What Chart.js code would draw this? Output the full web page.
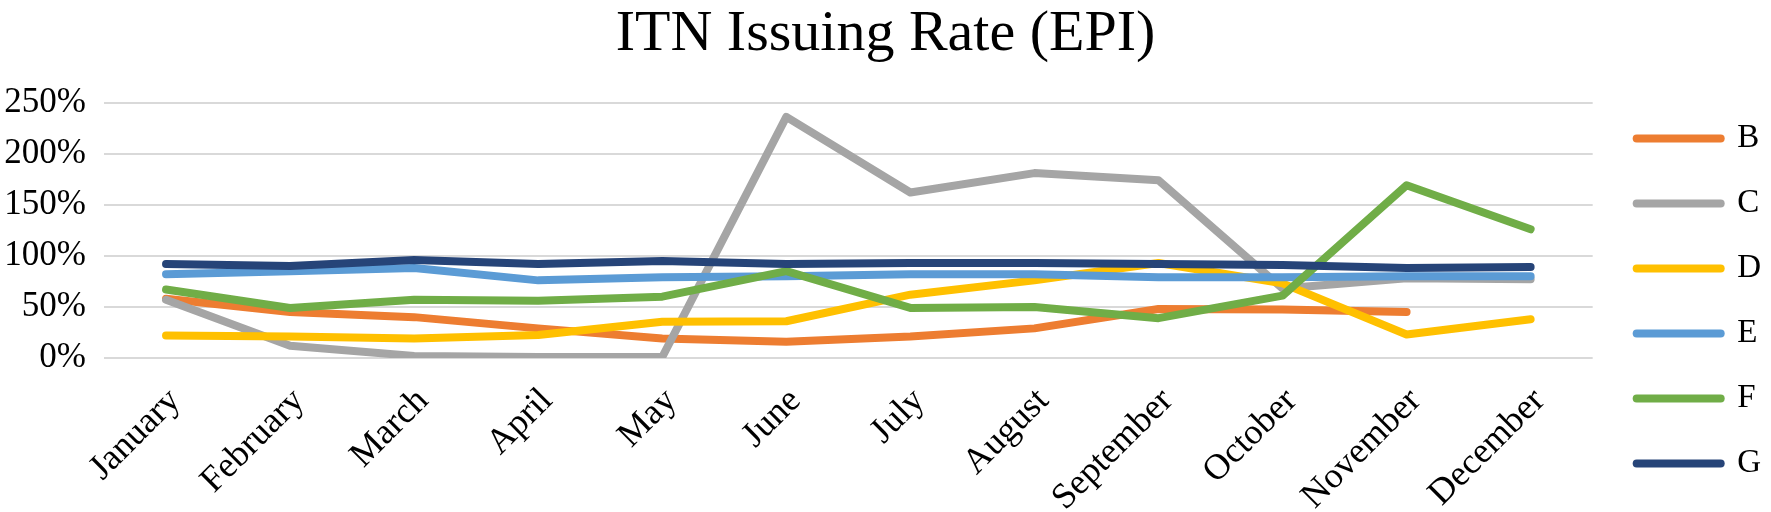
<!DOCTYPE html>
<html>
<head>
<meta charset="utf-8">
<script src="https://cdn.jsdelivr.net/npm/chart.js@4.4.1/dist/chart.umd.min.js"></script>
<style>
html,body{margin:0;padding:0;background:#fff;}
#wrap{width:1771px;height:512px;position:relative;}
</style>
</head>
<body>
<div id="wrap"><canvas id="c"></canvas></div>
<script>
const months = ["January","February","March","April","May","June","July","August","September","October","November","December"];
const seriesB = [58, 45, 40, 29, 19, 16, 21, 29, 48, 47.5, 45, null];
const seriesC = [57, 12, 2, 1, 1, 236, 162, 181, 174, 68, 78, 77];
const seriesD = [22, 21, 19, 22.5, 35.5, 36, 62, 76, 93, 73, 23, 38];
const seriesE = [82, 85, 88, 76, 79, 80, 82, 82, 79, 79, 80, 80];
const seriesF = [67, 49, 57, 56, 60, 85, 49, 50, 39, 61, 169, 126];
const seriesG = [92, 90, 96, 92, 95, 92, 93, 93, 92, 91, 88, 89];
const yTicks = [0, 50, 100, 150, 200, 250];
const seriesNames = ["B","C","D","E","F","G"];
const seriesColors = ["#ED7D31","#A5A5A5","#FFC000","#5B9BD5","#70AD47","#264478"];
const seriesData = [seriesB, seriesC, seriesD, seriesE, seriesF, seriesG];

const serif = "'Liberation Serif', 'DejaVu Serif', serif";

const datasets = seriesNames.map((n, i) => ({
  label: n,
  data: seriesData[i],
  borderColor: seriesColors[i],
  backgroundColor: seriesColors[i],
  borderWidth: 8,
  borderCapStyle: 'round',
  borderJoinStyle: 'round',
  pointRadius: 0,
  pointHoverRadius: 0,
  tension: 0,
  fill: false,
  spanGaps: false,
  yAxisID: 'y',
  order: seriesNames.length - i
}));

new Chart(document.getElementById('c'), {
  type: 'line',
  data: { labels: months, datasets },
  options: {
    responsive: true,
    maintainAspectRatio: false,
    animation: false,
    layout: { padding: { left: 0, right: 0, top: 0, bottom: 0 } },
    plugins: {
      title: {
        display: true,
        text: 'ITN Issuing Rate (EPI)',
        color: '#000',
        font: { family: serif, size: 58, weight: 'normal' },
        padding: { top: 0, bottom: 33 }
      },
      legend: {
        position: 'right',
        align: 'end',
        labels: {
          color: '#000',
          font: { family: serif, size: 33 },
          usePointStyle: true,
          pointStyle: 'line',
          pointStyleWidth: 84,
          boxHeight: 8,
          padding: 32,
          sort: (a, b) => a.datasetIndex - b.datasetIndex,
          generateLabels: (chart) => chart.data.datasets.map((ds, i) => ({
            text: ds.label,
            fillStyle: ds.borderColor,
            strokeStyle: ds.borderColor,
            lineWidth: 8,
            lineCap: 'round',
            pointStyle: 'line',
            hidden: false,
            datasetIndex: i,
            fontColor: '#000'
          }))
        }
      },
      tooltip: { enabled: false }
    },
    scales: {
      x: {
        offset: true,
        grid: { display: false, drawTicks: false },
        border: { display: false },
        ticks: {
          color: '#000',
          font: { family: serif, size: 36 },
          minRotation: 45,
          maxRotation: 45,
          autoSkip: false,
          padding: 22,
          labelOffset: 9
        },
        afterFit: (scale) => {
          scale.height = 154;
          scale.paddingLeft = 0;
          scale.paddingRight = 0;
        }
      },
      y: {
        min: 0,
        max: 250,
        afterBuildTicks: (scale) => { scale.ticks = yTicks.map(v => ({ value: v })); },
        grid: { color: '#D9D9D9', lineWidth: 2, drawTicks: false },
        border: { display: false },
        ticks: {
          color: '#000',
          font: { family: serif, size: 35 },
          padding: 18,
          callback: (v) => v + '%'
        },
        afterFit: (scale) => { scale.width = 104; }
      },
      yRightSpace: {
        position: 'right',
        display: true,
        min: 0,
        max: 1,
        grid: { display: false, drawTicks: false },
        border: { display: false },
        ticks: { display: false },
        afterFit: (scale) => { scale.width = 12; }
      }
    }
  }
});
</script>
</body>
</html>
